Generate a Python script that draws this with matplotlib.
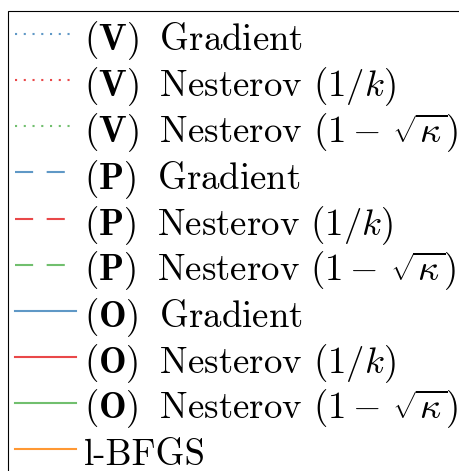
import matplotlib
matplotlib.use("Agg")
import matplotlib.pyplot as plt
from matplotlib.lines import Line2D

plt.rcParams['font.family'] = 'serif'
plt.rcParams['font.serif'] = ['cmr10']
plt.rcParams['mathtext.fontset'] = 'cm'
plt.rcParams['axes.unicode_minus'] = False

# legend entries
labels = [
    r"$\mathbf{(V)}\:$ Gradient",
    r"$\mathbf{(V)}\:$ Nesterov $(1/k)$",
    r"$\mathbf{(V)}\:$ Nesterov $(1-\,\sqrt{\kappa})$",
    r"$\mathbf{(P)}\:$ Gradient",
    r"$\mathbf{(P)}\:$ Nesterov $(1/k)$",
    r"$\mathbf{(P)}\:$ Nesterov $(1-\,\sqrt{\kappa})$",
    r"$\mathbf{(O)}\:$ Gradient",
    r"$\mathbf{(O)}\:$ Nesterov $(1/k)$",
    r"$\mathbf{(O)}\:$ Nesterov $(1-\,\sqrt{\kappa})$",
    "l-BFGS",
]
colors = ['#377eb8', '#e41a1c', '#4daf4a'] * 3 + ['#ff7f00']
styles = ['dotted'] * 3 + ['dashed'] * 3 + ['solid'] * 4

dash_map = {'dotted': (0, (1, 3.2)), 'dashed': (0, (8.7, 6.5)), 'solid': '-'}

handles = []
for c, s in zip(colors, styles):
    handles.append(Line2D([], [], color=c, alpha=0.8, linewidth=1.5,
                          linestyle=dash_map[s]))

fig = plt.figure(figsize=(4.6, 4.71), dpi=100)
leg = fig.legend(handles, labels, loc='upper left',
                 bbox_to_anchor=(8 / 460, 1 - 11 / 471),
                 borderaxespad=0, fontsize=26.5, frameon=True, fancybox=False,
                 framealpha=1, edgecolor='black', handlelength=1.66,
                 handletextpad=0.22, borderpad=0.19, handleheight=1.3,
                 labelspacing=0.048)
leg.get_frame().set_linewidth(0.8)

fig.savefig("out.png", dpi=100)
